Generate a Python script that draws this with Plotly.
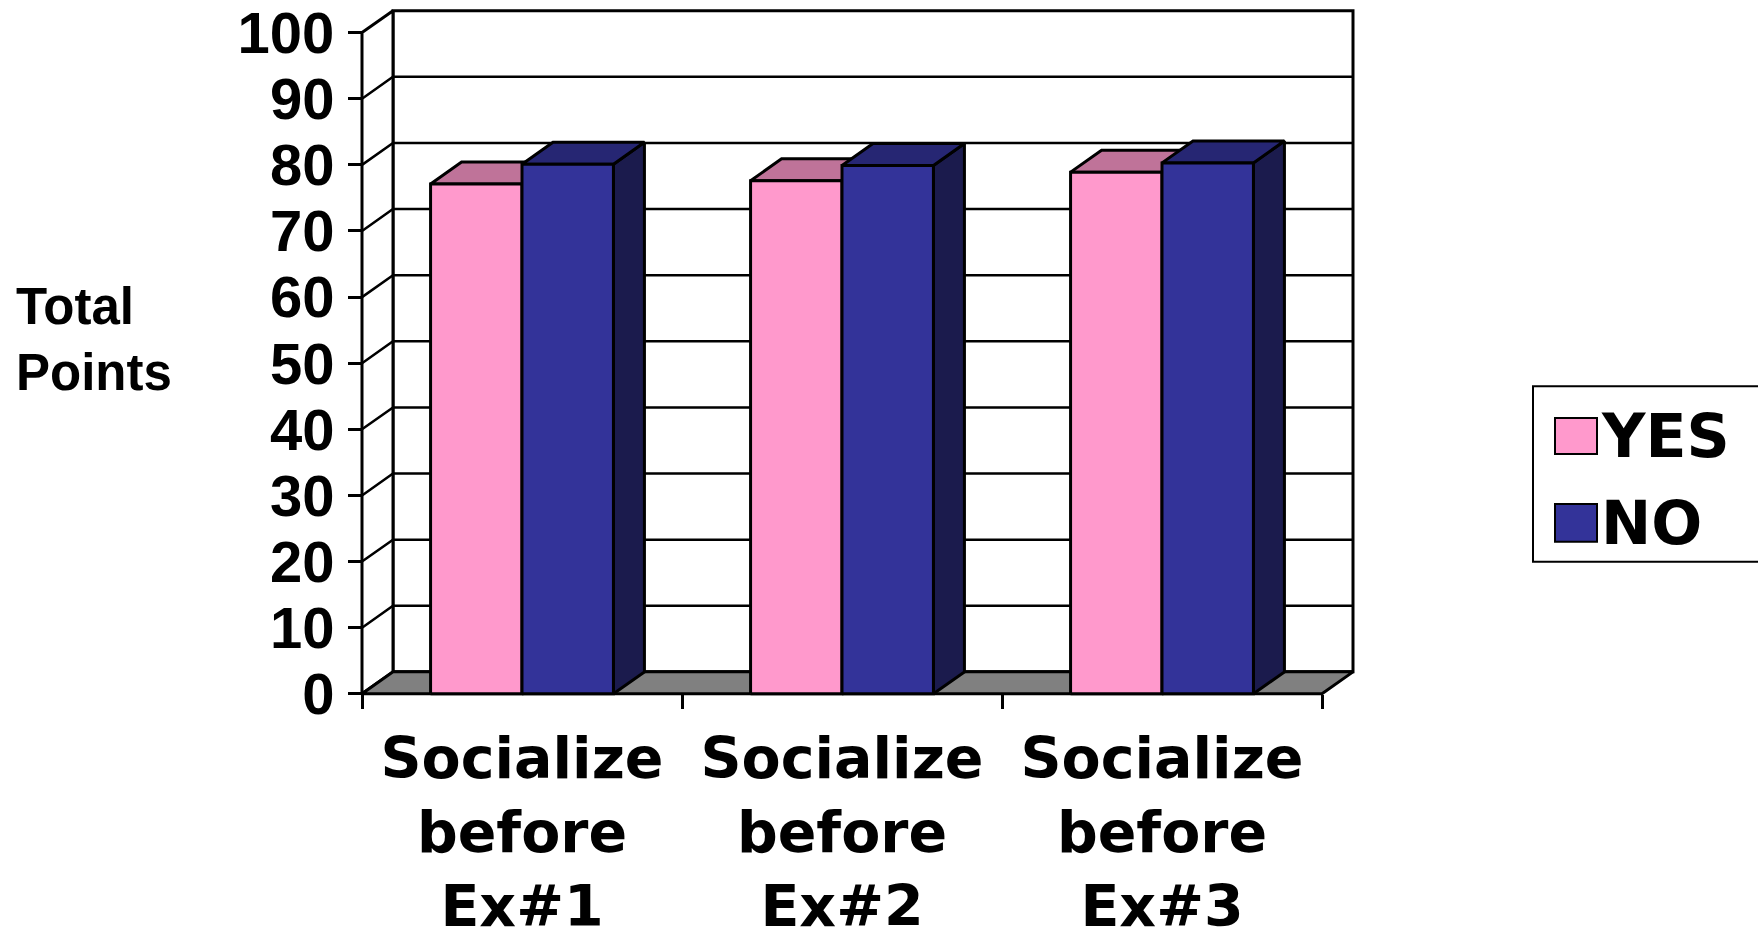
import plotly.graph_objects as go

# ---------------- data ----------------
categories = ["Socialize<br>before<br>Ex#1", "Socialize<br>before<br>Ex#2", "Socialize<br>before<br>Ex#3"]
series_names = ["YES", "NO"]
yes_values = [77.1, 77.6, 78.9]
no_values = [80.1, 79.9, 80.3]
y_ticks = [0, 10, 20, 30, 40, 50, 60, 70, 80, 90, 100]
y_title = "Total<br>Points"

# ---------------- styling / geometry ----------------
W, H = 1758, 939
FONT = "Liberation Sans, Arial, Helvetica, sans-serif"
WIDE = "DejaVu Sans, Liberation Sans, sans-serif"
X0PX, CATPX = 362.0, 320.0          # pixel of category-axis origin, pixels per category
Y0PX, YPX = 693.3, 6.626            # pixel of value 0, pixels per value unit
DDX = 31.0 / CATPX                  # depth offset in category units
DDY = 22.0 / YPX                    # depth offset in value units
YMAX = 100
n = len(categories)
BAR_W = 1.0 / 3.5                   # gap width 150 %

colors = {
    "YES": {"front": "#FF99CC", "top": "#BF7399", "side": "#804D66"},
    "NO": {"front": "#333399", "top": "#262673", "side": "#1B1B4D"},
}
WALL = "#FFFFFF"
FLOOR = "#808080"

fig = go.Figure()


def poly(pts, fill, lw=3.0):
    xs = [p[0] for p in pts] + [pts[0][0]]
    ys = [p[1] for p in pts] + [pts[0][1]]
    fig.add_trace(go.Scatter(x=xs, y=ys, mode="lines", fill="toself", fillcolor=fill,
                             line=dict(color="black", width=lw), hoverinfo="skip",
                             showlegend=False))


# back wall and side wall
poly([(DDX, DDY), (n + DDX, DDY), (n + DDX, YMAX + DDY), (DDX, YMAX + DDY)], WALL, 3)
poly([(0, 0), (DDX, DDY), (DDX, YMAX + DDY), (0, YMAX)], WALL, 3)

# gridlines (back wall horizontals + side wall diagonals)
gx, gy = [], []
for v in y_ticks[1:-1]:
    gx += [0, DDX, n + DDX, None]
    gy += [v, v + DDY, v + DDY, None]
fig.add_trace(go.Scatter(x=gx, y=gy, mode="lines", line=dict(color="black", width=2.5),
                         hoverinfo="skip", showlegend=False))

# floor
poly([(0, 0), (n, 0), (n + DDX, DDY), (DDX, DDY)], FLOOR, 3)

# bars
for i in range(n):
    c = i + 0.5
    for name, vals, x0 in (("YES", yes_values, c - BAR_W), ("NO", no_values, c)):
        v = vals[i]
        x1 = x0 + BAR_W
        col = colors[name]
        poly([(x1, 0), (x1 + DDX, DDY), (x1 + DDX, v + DDY), (x1, v)], col["side"], 3)
        poly([(x0, v), (x1, v), (x1 + DDX, v + DDY), (x0 + DDX, v + DDY)], col["top"], 3)
        poly([(x0, 0), (x1, 0), (x1, v), (x0, v)], col["front"], 3)

# ---------------- layout ----------------
PL, PR, PT, PB = 330.0, 1400.0, 0.0, 730.0
fig.update_layout(
    width=W, height=H, autosize=False,
    margin=dict(l=0, r=0, t=0, b=0),
    paper_bgcolor="white", plot_bgcolor="white",
    font=dict(family=FONT, color="black", weight="bold"),
    showlegend=False,
    xaxis=dict(
        domain=[PL / W, PR / W],
        range=[(PL - X0PX) / CATPX, (PR - X0PX) / CATPX],
        anchor="free", position=1 - Y0PX / H,
        tickmode="array", tickvals=[i + 0.5 for i in range(n)], ticktext=categories,
        ticks="", ticklabelstandoff=26, ticklabeloverflow="allow",
        tickfont=dict(family=WIDE, size=57, color="black", weight="bold"),
        showgrid=False, zeroline=False, showline=False, fixedrange=True,
        minor=dict(tickmode="array", tickvals=list(range(n + 1)), ticks="outside",
                   ticklen=14, tickwidth=3, tickcolor="black", showgrid=False),
    ),
    yaxis=dict(
        domain=[1 - PB / H, 1 - PT / H],
        range=[(Y0PX - PB) / YPX, (Y0PX - PT) / YPX],
        anchor="free", position=X0PX / W,
        tickmode="array", tickvals=y_ticks,
        ticks="outside", ticklen=14, tickwidth=3, tickcolor="black",
        ticklabelstandoff=2, ticklabeloverflow="allow",
        tickfont=dict(family=FONT, size=58, color="black", weight="bold"),
        showgrid=False, zeroline=False, showline=False, fixedrange=True,
    ),
)

# y-axis title
fig.add_annotation(text=y_title, xref="paper", yref="paper", x=14 / W, y=1 - 275 / H,
                   xanchor="left", yanchor="top", align="left", showarrow=False,
                   font=dict(family=FONT, size=51, color="black", weight="bold"))

# legend box
fig.add_shape(type="rect", xref="paper", yref="paper", x0=1533 / W, x1=1770 / W,
              y0=1 - 561 / H, y1=1 - 385 / H, line=dict(color="black", width=2),
              fillcolor="white", layer="below")
leg_rows = [("YES", 417, 453), ("NO", 503, 541)]
for name, t, b in leg_rows:
    fig.add_shape(type="rect", xref="paper", yref="paper", x0=1555 / W, x1=1597 / W,
                  y0=1 - b / H, y1=1 - t / H, line=dict(color="black", width=2),
                  fillcolor=colors[name]["front"])
    fig.add_annotation(text=name, xref="paper", yref="paper", x=1599 / W, y=1 - (t + b) / 2 / H,
                       xanchor="left", yanchor="middle", showarrow=False,
                       font=dict(family=WIDE, size=60, color="black", weight="bold"))

fig.write_html(
    "out.html",
    config={"displayModeBar": False},
    post_script="document.body.style.margin='0px';"
                "document.documentElement.style.overflow='hidden';"
                "document.body.style.overflow='hidden';",
)
